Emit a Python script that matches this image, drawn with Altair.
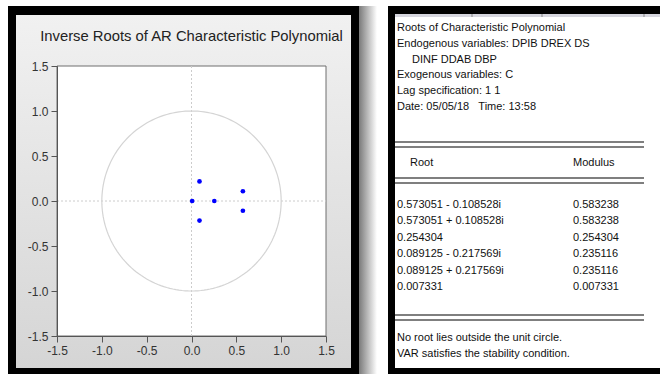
import altair as alt
import pandas as pd

# ---- data ----
root_real = [0.573051, 0.573051, 0.254304, 0.089125, 0.089125, 0.007331]
root_imag = [-0.108528, 0.108528, 0.0, -0.217569, 0.217569, 0.0]
root_labels = ["0.573051 - 0.108528i", "0.573051 + 0.108528i", "0.254304",
               "0.089125 - 0.217569i", "0.089125 + 0.217569i", "0.007331"]
modulus_labels = ["0.583238", "0.583238", "0.254304", "0.235116", "0.235116", "0.007331"]
header_lines = ["Roots of Characteristic Polynomial",
                "Endogenous variables: DPIB DREX DS",
                "DINF DDAB DBP",
                "Exogenous variables: C",
                "Lag specification: 1 1",
                "Date: 05/05/18\u00a0\u00a0\u00a0Time: 13:58"]
note_lines = ["No root lies outside the unit circle.",
              "VAR satisfies the stability condition."]
axis_ticks = [-1.5, -1.0, -0.5, 0.0, 0.5, 1.0, 1.5]

W, H = 660, 374
PX0, PX1, PY0, PY1 = 57, 326, 66, 336
SANS = "Liberation Sans, Arial, sans-serif"
NARROW = "Liberation Sans Narrow, Arial Narrow, Liberation Sans, sans-serif"
TFS = 11

one = pd.DataFrame({"a": [0]})


def box(x, x2, y, y2, **kw):
    return alt.Chart(one).mark_rect(**kw).encode(
        x=alt.value(x), x2=alt.value(x2), y=alt.value(y), y2=alt.value(y2))


def hline(y, x, x2, **kw):
    return alt.Chart(one).mark_rule(**kw).encode(
        x=alt.value(x), x2=alt.value(x2), y=alt.value(y))


grey_grad = alt.LinearGradient(
    gradient="linear", x1=0, x2=0, y1=0, y2=1,
    stops=[alt.GradientStop(color="#f1f1f1", offset=0),
           alt.GradientStop(color="#d5d5d5", offset=1)])
shadow_grad = alt.LinearGradient(
    gradient="linear", x1=0, x2=1, y1=0, y2=0,
    stops=[alt.GradientStop(color="#7a7a7a", offset=0),
           alt.GradientStop(color="#ffffff", offset=1)])

deco = [
    box(8, 359, 6, 380, color="#000000"),
    box(16, 351, 15, 368, fill=grey_grad),
    box(359, 377, 6, 374, fill=shadow_grad),
    box(388, 680, 6, 380, color="#000000"),
    box(395, 680, 14, 17, color="#d6d6de"),
    box(395, 680, 17, 368, color="#ffffff"),
    box(PX0, PX1, PY0, PY1, fill="#ffffff", stroke="#6e6e6e", strokeWidth=1),
]
for ty in [142, 147, 178, 183, 315, 320]:
    deco.append(hline(ty, 395, 644, color="#555555", strokeWidth=1.5))
for tx in [472, 542, 644]:
    deco.append(alt.Chart(one).mark_rule(color="#888888").encode(
        x=alt.value(tx), y=alt.value(14), y2=alt.value(17)))

# ---- unit-root plot ----
xs = alt.Scale(domain=[-1.5, 1.5], range=[PX0, PX1], nice=False, zero=False)
ys = alt.Scale(domain=[-1.5, 1.5], range=[PY1, PY0], nice=False, zero=False)
ax_common = dict(values=axis_ticks,
                 labelExpr="replace(format(datum.value, '.1f'), '\u2212', '-')",
                 labelFont=SANS, labelFontSize=12,
                 labelColor="#333333", tickColor="#555555", tickSize=6,
                 domainColor="#555555", grid=False, title=None, labelPadding=3,
                 labelFlush=False, labelOverlap=False, labelBound=False, zindex=2)
xax = alt.Axis(orient="bottom", offset=PY1 - H, **ax_common)
yax = alt.Axis(orient="left", offset=-PX0, **ax_common)

circle = alt.Chart(alt.sequence(0, 361, 2, as_="deg")).transform_calculate(
    cx="cos(datum.deg*PI/180)", cy="sin(datum.deg*PI/180)"
).mark_line(color="#d4d4d4", strokeWidth=1.2).encode(
    x=alt.X("cx:Q", scale=xs, axis=xax),
    y=alt.Y("cy:Q", scale=ys, axis=yax),
    order="deg:Q")

zero_v = alt.Chart(one).mark_rule(color="#cccccc", strokeDash=[2, 2]).encode(
    x=alt.XDatum(0, type="quantitative", scale=xs, axis=xax),
    y=alt.YDatum(-1.5, type="quantitative", scale=ys, axis=yax),
    y2=alt.datum(1.5))
zero_h = alt.Chart(one).mark_rule(color="#cccccc", strokeDash=[2, 2]).encode(
    y=alt.YDatum(0, type="quantitative", scale=ys, axis=yax),
    x=alt.XDatum(-1.5, type="quantitative", scale=xs, axis=xax),
    x2=alt.datum(1.5))

roots = pd.DataFrame({"re": root_real, "im": root_imag})
pts = alt.Chart(roots).mark_point(filled=True, color="#0000ff", size=22, opacity=1).encode(
    x=alt.X("re:Q", scale=xs, axis=xax),
    y=alt.Y("im:Q", scale=ys, axis=yax))

plot = alt.layer(zero_v, zero_h, circle, pts)

title = alt.Chart(one).mark_text(
    text="Inverse Roots of AR Characteristic Polynomial", font=SANS, fontSize=14.8,
    color="#222222", align="center", baseline="middle").encode(
    x=alt.value(191.5), y=alt.value(37))

# ---- table text ----
txt_style = dict(font=NARROW, fontSize=TFS, color="#111111", align="left", baseline="middle")
hdr = pd.DataFrame({"i": range(len(header_lines)), "t": header_lines})
hdr_scale = alt.Scale(domain=[0, 5], range=[28, 107])
hdr_txt = alt.Chart(hdr).transform_filter("datum.i != 2").mark_text(**txt_style).encode(
    x=alt.value(397), y=alt.Y("i:Q", scale=hdr_scale, axis=None), text="t:N")
hdr_ind = alt.Chart(hdr).transform_filter("datum.i == 2").mark_text(**txt_style).encode(
    x=alt.value(412), y=alt.Y("i:Q", scale=hdr_scale, axis=None), text="t:N")

col_root = alt.Chart(one).mark_text(text="Root", **txt_style).encode(
    x=alt.value(410), y=alt.value(163))
col_mod = alt.Chart(one).mark_text(text="Modulus", **txt_style).encode(
    x=alt.value(573), y=alt.value(163))

rows = pd.DataFrame({"i": range(len(root_labels)), "root": root_labels, "mod": modulus_labels})
row_scale = alt.Scale(domain=[0, 5], range=[205, 287])
root_txt = alt.Chart(rows).mark_text(**txt_style).encode(
    x=alt.value(397), y=alt.Y("i:Q", scale=row_scale, axis=None), text="root:N")
mod_txt = alt.Chart(rows).mark_text(**txt_style).encode(
    x=alt.value(573), y=alt.Y("i:Q", scale=row_scale, axis=None), text="mod:N")

notes = pd.DataFrame({"i": range(len(note_lines)), "t": note_lines})
note_txt = alt.Chart(notes).mark_text(**txt_style).encode(
    x=alt.value(397),
    y=alt.Y("i:Q", scale=alt.Scale(domain=[0, 1], range=[338, 354]), axis=None),
    text="t:N")

chart = alt.layer(*deco, plot, title, hdr_txt, hdr_ind, col_root, col_mod, root_txt, mod_txt,
                  note_txt
                  ).resolve_scale(x="independent", y="independent").properties(
    width=W, height=H, padding=0, background="#ffffff",
    autosize=alt.AutoSizeParams(type="none")
).configure_view(stroke=None)

chart.save("out.html", embed_options={"renderer": "svg", "actions": False})
